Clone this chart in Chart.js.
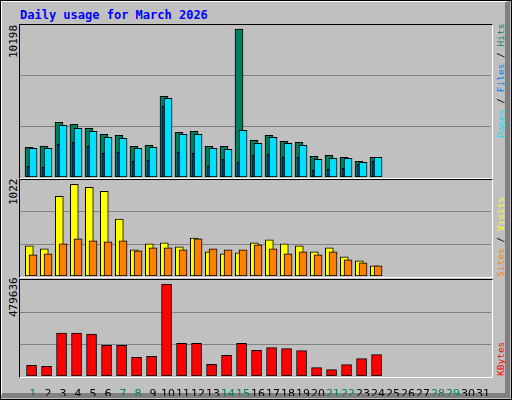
<!DOCTYPE html>
<html><head><meta charset="utf-8">
<script src="https://cdn.jsdelivr.net/npm/chart.js@4"></script>
<style>
html,body{margin:0;padding:0;width:512px;height:400px;overflow:hidden;background:#c0c0c0}
#frame{position:absolute;left:0;top:0;width:510px;height:398px;border:1px solid #000;background:#c0c0c0}
#bev{position:absolute;left:1px;top:1px;width:503px;height:391px;border-top:1px solid #fff;border-left:1px solid #fff;border-right:5px solid #808080;border-bottom:5px solid #808080}
.t{position:absolute;font-family:"DejaVu Sans Mono",monospace;white-space:nowrap;line-height:1}
.rot{transform-origin:0 0;transform:rotate(-90deg)}
.box{position:absolute;border-top:1px solid #000;border-left:1px solid #000;border-right:1px solid #fff;border-bottom:1px solid #fff}
canvas{position:absolute}
</style></head><body>
<div id="frame"></div><div id="bev"></div>
<div class="t" style="left:20px;top:9px;font-size:12px;font-weight:bold;color:#0000ff">Daily usage for March 2026</div>
<div class="box" style="left:19px;top:24px;width:472px;height:153px"></div>
<div class="box" style="left:19px;top:179px;width:472px;height:97px"></div>
<div class="box" style="left:19px;top:279px;width:472px;height:97px"></div>
<div class="t rot" style="left:8px;top:58px;font-size:11px;">10198</div>
<div class="t rot" style="left:8px;top:205px;font-size:11px;">1022</div>
<div class="t rot" style="left:8px;top:317px;font-size:11px;">479636</div>
<div class="t rot" style="left:496px;top:138px;font-size:9.5px;"><span style="color:#00e0ff">Pages</span> / <span style="color:#0080ff">Files</span> / <span style="color:#008060">Hits</span></div>
<div class="t rot" style="left:496px;top:277px;font-size:9.5px;"><span style="color:#ff8000">Sites</span> / <span style="color:#ffff00">Visits</span></div>
<div class="t rot" style="left:496px;top:376px;font-size:9.5px;color:#ff0000">KBytes</div>
<canvas id="c1" width="471" height="152" style="left:20px;top:25px"></canvas>
<canvas id="c2" width="471" height="96" style="left:20px;top:180px"></canvas>
<canvas id="c3" width="471" height="116" style="left:20px;top:280px"></canvas>
<script>
const days = Array.from({length:31},(_,i)=>String(i+1));
const weekendDays = [1,7,8,14,15,21,22,28,29];
const hits  = [1993,2080,3670,3536,3268,2865,2798,2060,2127,5415,3000,3066,2060,2060,9930,2463,2798,2395,2328,1389,1456,1322,1053,1322];
const pages = [1926,1926,3469,3268,3066,2664,2597,1926,1993,5281,2865,2865,1926,1859,3134,2261,2664,2261,2127,1188,1255,1255,986,1322];
const files = [718,651,2194,2328,2060,1590,1657,1053,1121,4744,1657,1590,718,1188,986,1456,1523,1322,1322,449,516,583,852,1053];
const visits= [321,289,849,976,944,902,606,278,342,352,310,405,257,236,247,352,384,342,321,257,300,204,162,109];
const sites = [226,236,342,395,374,363,374,268,300,300,278,395,289,278,278,331,289,236,257,226,257,173,141,109];
const kbytes= [53478,48464,213917,213917,208903,153750,153750,93587,98601,459580,163777,163777,58492,103614,163777,128681,142051,137038,127010,41780,31753,56821,86902,106957];
const maxHits=10198, maxVisits=1022, maxKB=479636;

Chart.defaults.font.family="DejaVu Sans Mono";
Chart.defaults.animation=false;
const pts=(arr,off)=>arr.map((v,i)=>({x:i+1+off,y:v}));
function ds(arr,off,color,w,order){return {data:pts(arr,off),backgroundColor:color,borderColor:'#000',borderWidth:1,barThickness:w,grouped:false,order,borderSkipped:false};}
function opts(max,showX){
  const x={type:'linear',min:0.13,max:31.53,display:showX,offset:false,
        grid:{display:false},border:{display:false},
        ticks:{display:showX,autoSkip:false,maxRotation:0,padding:4,font:{family:'DejaVu Sans',size:11},
          callback:(v)=>days[v-1],
          color:c=>weekendDays.includes(c.tick.value)?'#008060':'#000'}};
  if(showX){
    x.afterBuildTicks=s=>{s.ticks=days.map((d,i)=>({value:i+1}));};
    x.afterFit=s=>{s.height=20;s.paddingLeft=0;s.paddingRight=0;};
  }
  return {responsive:false,devicePixelRatio:1,events:[],
    layout:{padding:0},
    plugins:{legend:{display:false},tooltip:{enabled:false}},
    scales:{
      x:x,
      y:{min:0,max:max,display:true,
        afterBuildTicks:s=>{s.ticks=[{value:max/3},{value:2*max/3}];},
        afterFit:s=>{s.width=0;s.paddingTop=0;s.paddingBottom=0;},
        ticks:{display:false},border:{display:false},
        grid:{color:'#808080',lineWidth:1,drawTicks:false}}}};
}
new Chart(document.getElementById('c1'),{type:'bar',data:{datasets:[
  ds(hits,-0.27,'#008060',8,2), ds(pages,0,'#00e0ff',8,1), ds(files,-0.33,'#0040ff',2,0)]},options:opts(maxHits,false)});
new Chart(document.getElementById('c2'),{type:'bar',data:{datasets:[
  ds(visits,-0.25,'#ffff00',8,1), ds(sites,0,'#ff8000',8,0)]},options:opts(maxVisits,false)});
new Chart(document.getElementById('c3'),{type:'bar',data:{datasets:[
  ds(kbytes,-0.1,'#ff0000',10,0)]},options:opts(maxKB,true)});
</script></body></html>
